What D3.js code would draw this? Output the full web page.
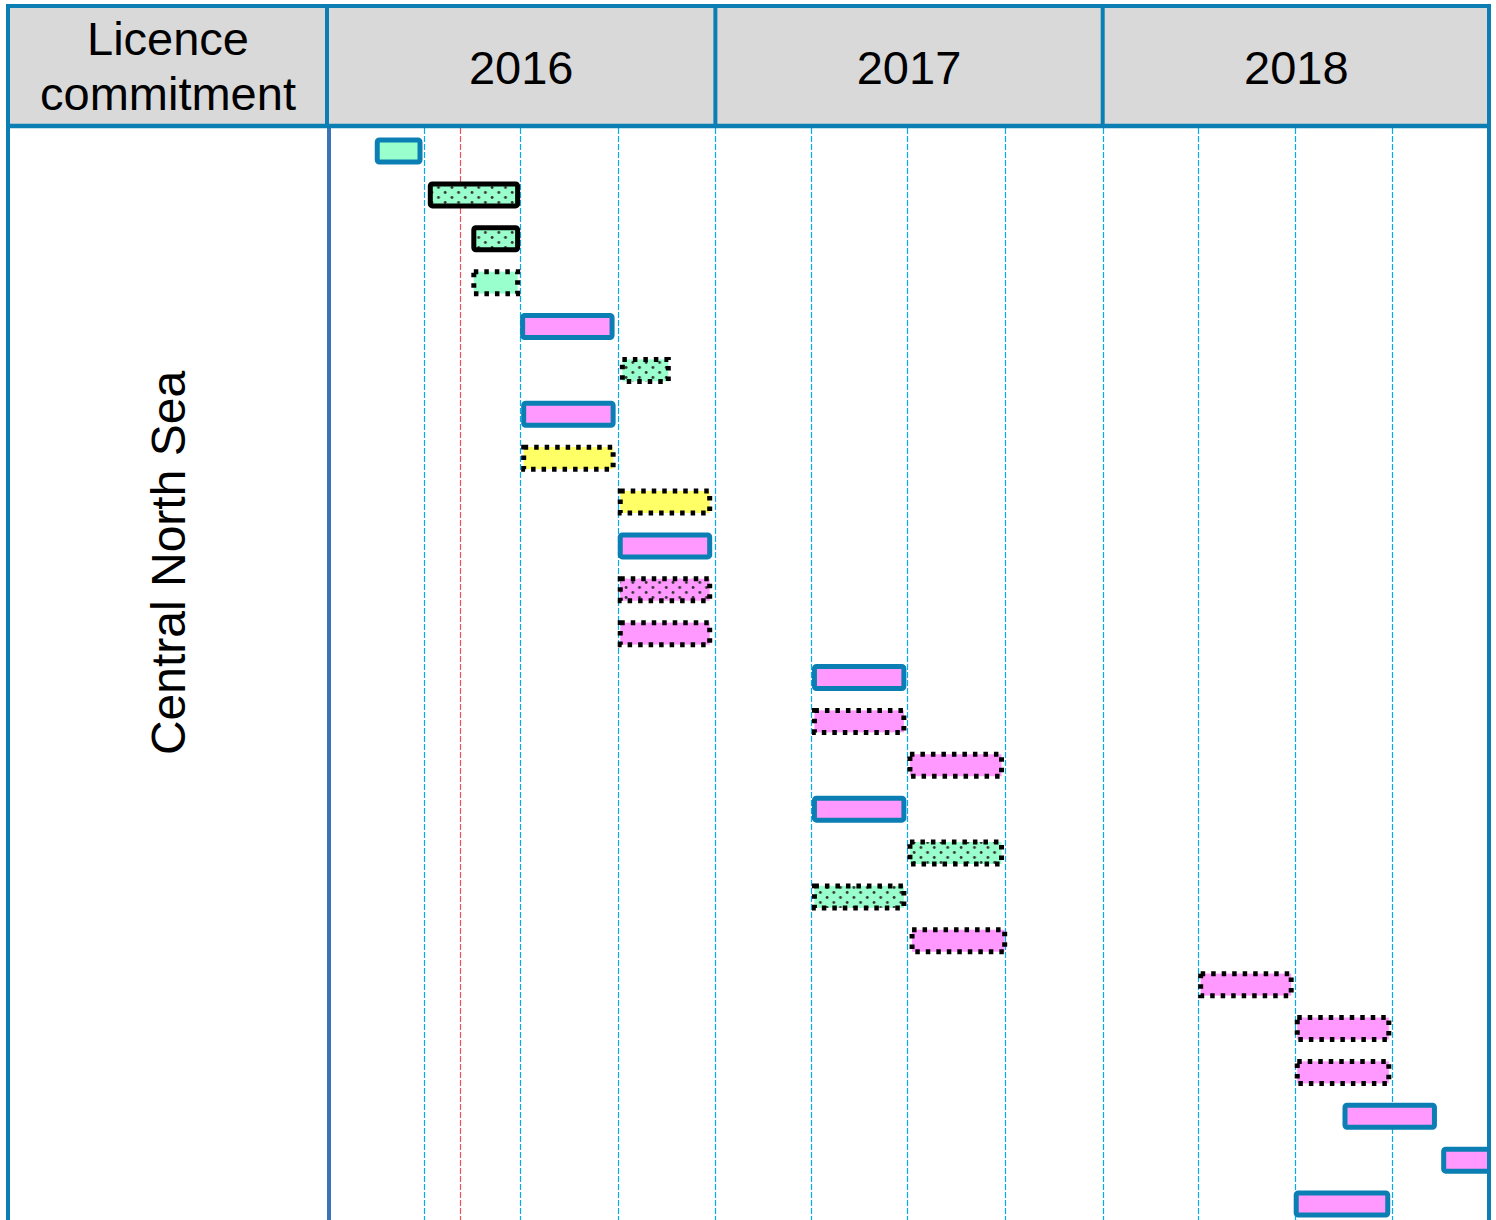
<!DOCTYPE html>
<html>
<head>
<meta charset="utf-8">
<script src="https://cdn.jsdelivr.net/npm/d3@7"></script>
<style>
  body { margin: 0; background: #fff; }
  text { font-family: "Liberation Sans", Arial, sans-serif; fill: #000; }
</style>
</head>
<body>
<svg id="chart"></svg>
<script>
// header + row label
const years = ["2016", "2017", "2018"];
const rowLabel = "Central North Sea";
const headerLabel = ["Licence", "commitment"];
const todayDate = "2016-05-05";

// one entry per bar, top to bottom
const starts = ["2016-02-15","2016-04-05","2016-05-16","2016-05-16","2016-07-01","2016-10-03",
  "2016-07-02","2016-07-02","2016-10-01","2016-10-01","2016-10-01","2016-10-01",
  "2017-04-02","2017-04-02","2017-07-01","2017-04-02","2017-07-01","2017-04-02","2017-07-03",
  "2018-04-01","2018-07-01","2018-07-01","2018-08-15","2018-11-16","2018-06-30"];
const ends = ["2016-03-31","2016-07-01","2016-07-01","2016-07-01","2016-09-28","2016-11-20",
  "2016-09-29","2016-09-29","2016-12-29","2016-12-29","2016-12-29","2016-12-29",
  "2017-06-30","2017-06-30","2017-09-30","2017-06-30","2017-09-30","2017-06-30","2017-10-03",
  "2018-06-30","2018-09-30","2018-09-30","2018-11-12","2019-01-05","2018-09-29"];
// activity category (fill) and commitment status (outline)
const kinds = ["g","g","g","g","p","g","p","y","y","p","p","p",
  "p","p","p","p","g","g","p","p","p","p","p","p","p"];
const hatched = [0,1,1,0,0,1,0,0,0,0,1,0,0,0,0,0,1,1,0,0,0,0,0,0,0];
const status = ["firm","solid","solid","dotted","firm","dotted","firm","dotted","dotted","firm","dotted","dotted",
  "firm","dotted","dotted","firm","dotted","dotted","dotted","dotted","dotted","dotted","firm","firm","firm"];

const W = 1496, H = 1220;
const blue = "#0b7fb3";
const parse = d3.timeParse("%Y-%m-%d");

const svg = d3.select("#chart").attr("width", W).attr("height", H);

const x = d3.scaleTime()
  .domain([new Date(2016, 0, 1), new Date(2019, 0, 1)])
  .range([327, 1490]);
const y = d3.scaleLinear().domain([0, starts.length - 1]).range([151, 1204]);
const fill = d3.scaleOrdinal().domain(["g", "p", "y"]).range(["#99ffcc", "#ff99ff", "#ffff66"]);

const defs = svg.append("defs");
["g", "p"].forEach(k => {
  const p = defs.append("pattern")
    .attr("id", "dots-" + k)
    .attr("patternUnits", "userSpaceOnUse")
    .attr("width", 13.4).attr("height", 10);
  p.append("rect").attr("width", 13.4).attr("height", 10).attr("fill", fill(k));
  p.append("circle").attr("cx", 3).attr("cy", 2.5).attr("r", 1.4).attr("fill", "#333");
  p.append("circle").attr("cx", 9.7).attr("cy", 7.5).attr("r", 1.4).attr("fill", "#333");
});
defs.append("clipPath").attr("id", "plot")
  .append("rect").attr("x", 327).attr("y", 128).attr("width", 1163).attr("height", H - 128);

// header background
svg.append("rect").attr("x", 8).attr("y", 6).attr("width", 1482).attr("height", 120).attr("fill", "#d9d9d9");

// quarter gridlines
const quarters = d3.timeMonth.every(3).range(new Date(2016, 3, 1), new Date(2019, 0, 1));
svg.append("g").selectAll("line").data(quarters).join("line")
  .attr("x1", d => Math.round(x(d)) + 0.5).attr("x2", d => Math.round(x(d)) + 0.5)
  .attr("y1", 128).attr("y2", H)
  .attr("stroke", "#00aef0").attr("stroke-width", 1.2).attr("stroke-dasharray", "6,2");

// today marker
const tx = Math.round(x(parse(todayDate))) + 0.5;
svg.append("line")
  .attr("x1", tx).attr("x2", tx)
  .attr("y1", 128).attr("y2", H)
  .attr("stroke", "#f05050").attr("stroke-width", 1.2).attr("stroke-dasharray", "6,2");

// bars
const bars = starts.map((s, i) => ({
  s: parse(s), e: parse(ends[i]), k: kinds[i], h: hatched[i], st: status[i], i
}));
svg.append("g").attr("clip-path", "url(#plot)")
  .selectAll("rect").data(bars).join("rect")
  .attr("x", d => x(d.s) + 2.5)
  .attr("width", d => x(d.e) - x(d.s) - 5)
  .attr("y", d => y(d.i) - 11)
  .attr("height", 22)
  .attr("rx", d => d.st === "dotted" ? 0 : 2)
  .attr("fill", d => d.h ? `url(#dots-${d.k})` : fill(d.k))
  .attr("stroke", d => d.st === "firm" ? blue : "#000")
  .attr("stroke-width", 5)
  .attr("stroke-dasharray", d => d.st === "dotted" ? "4.5,6" : null);

// borders
svg.append("line").attr("x1", 329).attr("x2", 329).attr("y1", 126).attr("y2", H)
  .attr("stroke", "#3b74b8").attr("stroke-width", 4);
svg.append("line").attr("x1", 8).attr("x2", 1490).attr("y1", 126).attr("y2", 126)
  .attr("stroke", blue).attr("stroke-width", 4.5);
svg.append("g").selectAll("line").data([327, x(new Date(2017, 0, 1)), x(new Date(2018, 0, 1))]).join("line")
  .attr("x1", d => d).attr("x2", d => d).attr("y1", 6).attr("y2", 126)
  .attr("stroke", blue).attr("stroke-width", 4);
svg.append("path")
  .attr("d", `M8,${H} V6 H1489 V${H}`)
  .attr("fill", "none").attr("stroke", blue).attr("stroke-width", 4);

// header text
svg.append("text").attr("x", 168).attr("text-anchor", "middle").style("font-size", "47px")
  .selectAll("tspan").data(headerLabel).join("tspan")
  .attr("x", 168).attr("y", (d, i) => 55 + i * 55).text(d => d);

svg.append("g").selectAll("text").data(years).join("text")
  .attr("x", d => (x(new Date(+d, 0, 1)) + x(new Date(+d + 1, 0, 1))) / 2)
  .attr("y", 84)
  .attr("text-anchor", "middle")
  .style("font-size", "47px")
  .text(d => d);

svg.append("text")
  .attr("transform", "translate(185,563) rotate(-90)")
  .attr("text-anchor", "middle")
  .style("font-size", "48px")
  .text(rowLabel);
</script>
</body>
</html>
